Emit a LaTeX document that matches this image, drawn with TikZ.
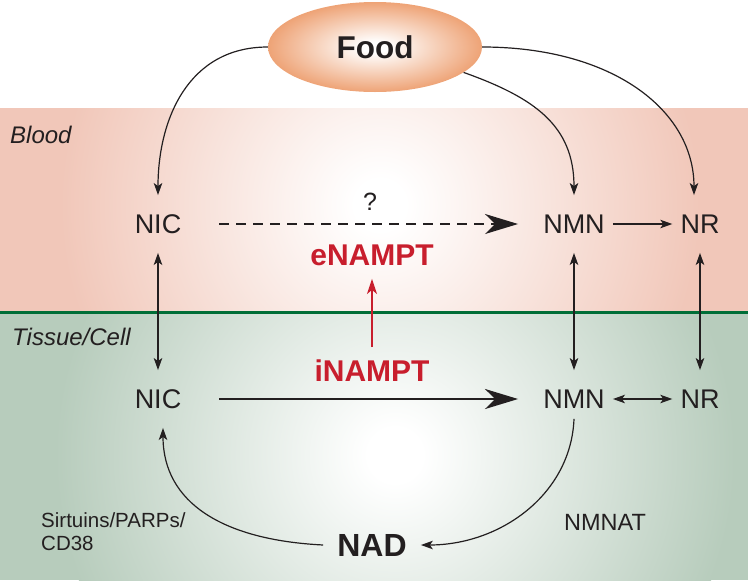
\documentclass[tikz,border=0pt]{standalone}
\usepackage{fontspec}
\setmainfont{Liberation Sans}
\usepackage{tikz}
\usetikzlibrary{positioning}
\usetikzlibrary{shapes.geometric}
\usetikzlibrary{arrows.meta}

\definecolor{bloodpink}{RGB}{241,199,185}
\definecolor{tissuegreen}{RGB}{183,204,188}
\definecolor{borderline}{RGB}{0,110,55}
\definecolor{namptred}{RGB}{200,30,45}
\definecolor{foodorange}{RGB}{238,163,118}
\definecolor{inkgray}{RGB}{35,31,32}

\pgfdeclareradialshading{bloodglow}{\pgfpoint{0bp}{0bp}}{color(0bp)=(white); color(2bp)=(white); color(25bp)=(bloodpink); color(50bp)=(bloodpink)}
\pgfdeclareradialshading{tissueglow}{\pgfpoint{0bp}{0bp}}{color(0bp)=(white); color(2bp)=(white); color(25bp)=(tissuegreen); color(50bp)=(tissuegreen)}
\pgfdeclareradialshading{foodglow}{\pgfpoint{0bp}{0bp}}{color(0bp)=(white); color(3bp)=(white); color(25bp)=(foodorange); color(50bp)=(foodorange)}

\tikzset{
  metab/.style={text=inkgray, font=\fontsize{27}{32}\selectfont, text height=19.5pt, text depth=0pt, inner xsep=8pt, inner ysep=19pt},
  enzyme/.style={text=namptred, font=\fontsize{30}{36}\selectfont\bfseries, text height=21.5pt, text depth=0pt, inner xsep=4pt, inner ysep=13pt},
  region/.style={text=inkgray, font=\fontsize{24}{28}\selectfont\itshape, inner sep=0pt},
  thinarrow/.style={-{Stealth[length=12pt,width=8.5pt,inset=3pt]}, line width=1.2pt, inkgray},
  bothways/.style={{Stealth[length=12pt,width=8.5pt,inset=3pt]}-{Stealth[length=12pt,width=8.5pt,inset=3pt]}, line width=1.2pt, inkgray},
  bigarrow/.style={-{Stealth[length=33pt,width=20pt,inset=10pt]}, line width=2.4pt, inkgray, shorten <=30pt, shorten >=17pt},
  redarrow/.style={-{Stealth[length=15pt,width=10pt,inset=4pt]}, line width=1.8pt, namptred}
}

\begin{document}
\begin{tikzpicture}[x=1pt,y=-1pt]
\useasboundingbox (0,0) rectangle (750,582);

% blood and tissue
\fill[bloodpink] (0,108) rectangle (748,312);
\begin{scope}
\clip (0,108) rectangle (748,312);
\shade[shading=bloodglow] (380,205) circle (320pt);
\end{scope}
\fill[tissuegreen] (0,313) rectangle (748,580);
\begin{scope}
\clip (0,313) rectangle (748,580);
\shade[shading=tissueglow] (395,455) circle (340pt);
\end{scope}
\draw[borderline, line width=3pt] (0,312.5) -- (748,312.5);

\node[region, anchor=base west] (blood) at (10,143) {Blood};
\node[region, anchor=base west] (tissue) at (12,345) {Tissue/Cell};

\node[ellipse, shading=foodglow, shade, minimum width=214pt, minimum height=90pt, inner sep=0pt,
      text=inkgray, font=\fontsize{31.5}{36}\selectfont\bfseries] (food) at (375,47) {Food};

\node[metab] (nicT) at (158,224) {NIC};
\node[metab] (nmnT) at (574,224) {NMN};
\node[metab] (nrT) at (700,224) {NR};
\node[metab] (nicB) at (158,399) {NIC};
\node[metab] (nmnB) at (574,399) {NMN};
\node[metab] (nrB) at (700,399) {NR};

\node[enzyme] (enampt) at (372,255) {eNAMPT};
\node[enzyme] (inampt) at (372,371) {iNAMPT};
\node[text=inkgray, font=\fontsize{25}{30}\selectfont, anchor=base] (unknown) at (370,210) {?};

\node[text=inkgray, font=\fontsize{32}{38}\selectfont\bfseries, text height=23pt, text depth=0pt, inner xsep=14pt] (nad) at (372,545) {NAD};
\node[text=inkgray, font=\fontsize{20.5}{23}\selectfont, align=left, anchor=west, inner sep=0pt] (sirt) at (41,532) {Sirtuins/PARPs/\\CD38};
\node[text=inkgray, font=\fontsize{23.5}{28}\selectfont] (nmnat) at (605,522) {NMNAT};

% food uptake
\draw[thinarrow] (food.west) .. controls +(-80,0) and +(0,-75) .. (nicT.north);
\draw[thinarrow] (food.-16) .. controls +(70,25) and +(0,-70) .. (nmnT.north);
\draw[thinarrow] (food.east) .. controls +(130,0) and +(0,-85) .. ([xshift=-6pt]nrT.north);

% blood
\draw[bigarrow, dash pattern=on 10pt off 7pt, line width=2.2pt] (nicT) -- (nmnT);
\draw[thinarrow] (nmnT) -- (nrT);
\draw[redarrow] (inampt) -- (enampt);

% exchange
\draw[bothways] (nicT) -- (nicB);
\draw[bothways] (nmnT) -- (nmnB);
\draw[bothways] (nrT) -- (nrB);

% tissue
\draw[bigarrow] (nicB) -- (nmnB);
\draw[bothways] (nmnB) -- (nrB);
\draw[thinarrow] ([yshift=9pt]nmnB.south) .. controls +(-3,75) and +(80,0) .. (nad.east);
\draw[thinarrow] (nad.west) .. controls +(-100,-5) and +(0,75) .. ([xshift=5pt]nicB.south);
\end{tikzpicture}
\end{document}
